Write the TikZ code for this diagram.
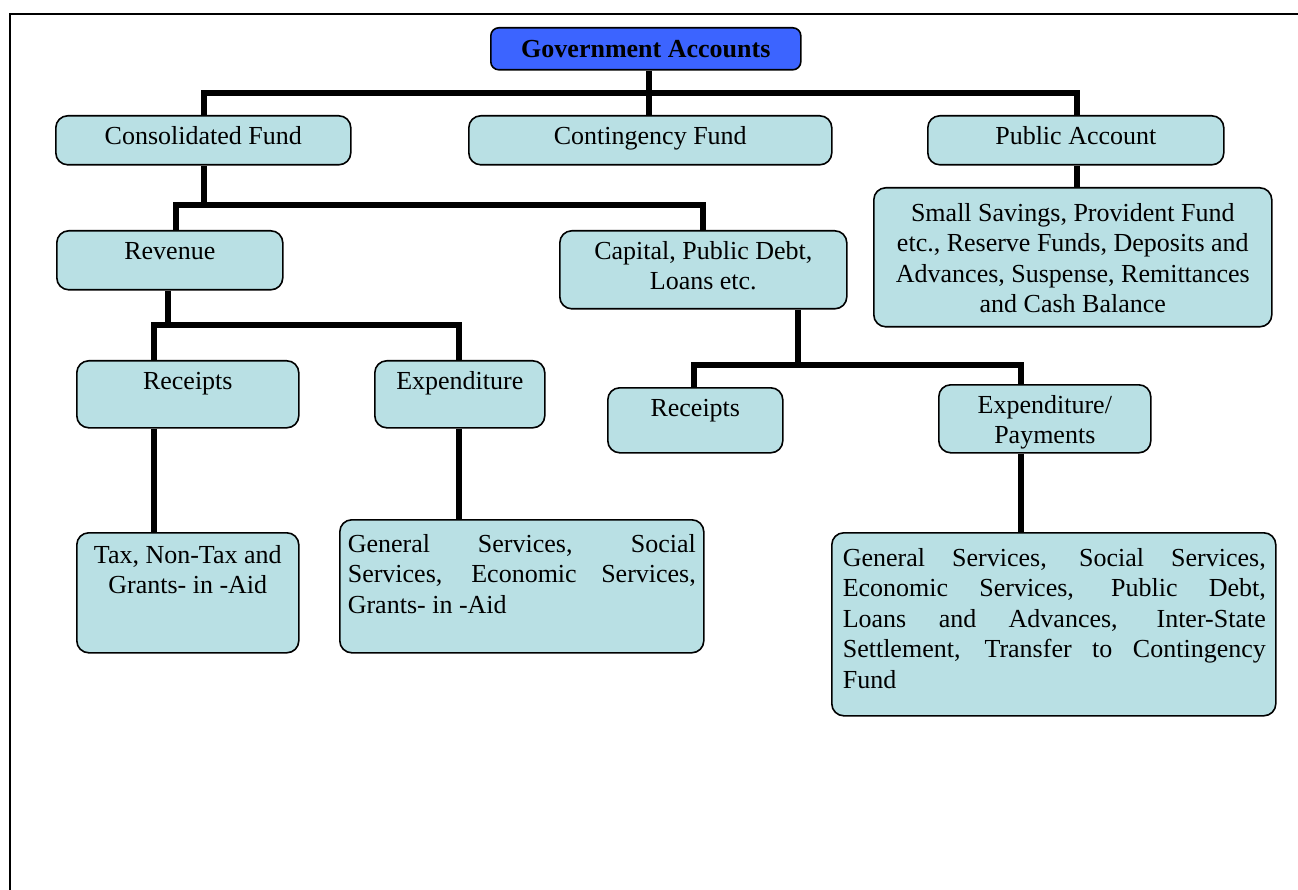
\documentclass[tikz,border=0pt]{standalone}
\usepackage{fontspec}
\setmainfont{Liberation Serif}
\definecolor{boxfill}{RGB}{185,224,228}
\definecolor{gafill}{RGB}{60,100,255}
\newcommand\bt[4][7pt]{\parbox[c][#3][t]{#2}{\vspace*{#1}#4}}
\tikzset{
  box/.style={draw=black, line width=1.6pt, fill=boxfill, rounded corners=12pt,
    inner sep=0pt, anchor=north west, font=\fontsize{26}{30.5}\selectfont},
  conn/.style={line width=5.5pt, line join=miter, black},
}
\begin{document}
\begin{tikzpicture}[x=1pt,y=-1pt]
\useasboundingbox (0,0) rectangle (1298,890);
\draw[line width=1.5pt] (10,900) -- (10,14) -- (1310,14);

\node[box, fill=gafill, rounded corners=8pt, minimum width=310pt, minimum height=42pt,
  font=\fontsize{26}{30}\selectfont\bfseries] (ga) at (490,27) {Government Accounts};

\node[box] (cf) at (55,115) {\bt{295pt}{49pt}{\centering\strut Consolidated Fund}};
\node[box] (cg) at (468,115) {\bt{363pt}{49pt}{\centering\strut Contingency Fund}};
\node[box] (pa) at (927,115) {\bt{296pt}{49pt}{\centering\strut Public Account}};
\node[box] (ss) at (873,187) {\bt[12pt]{398pt}{139pt}{\centering\strut Small Savings, Provident Fund\\ etc., Reserve Funds, Deposits and\\ Advances, Suspense, Remittances\\ and Cash Balance}};
\node[box] (rv) at (56,230) {\bt{226pt}{59pt}{\centering\strut Revenue}};
\node[box] (cp) at (559,230) {\bt{287pt}{78pt}{\centering\strut Capital, Public Debt,\\ Loans etc.}};
\node[box] (rl) at (76,360) {\bt{222pt}{67pt}{\centering\strut Receipts}};
\node[box] (ex) at (374,360) {\bt{170pt}{67pt}{\centering\strut Expenditure}};
\node[box] (rr) at (607,387) {\bt{175pt}{65pt}{\centering\strut Receipts}};
\node[box] (ep) at (938,384) {\bt{212pt}{68pt}{\centering\strut Expenditure/\\ Payments}};
\node[box] (tx) at (76,532) {\bt[9pt]{222pt}{120pt}{\centering\strut Tax, Non-Tax and\\ Grants- in -Aid}};
\node[box] (gl) at (339,519) {\bt[11pt]{364pt}{133pt}{\leftskip=8pt\rightskip=8pt\strut General Services, Social\linebreak Services, Economic Services,\linebreak Grants- in -Aid}};
\node[box] (gr) at (831,532) {\bt[12pt]{444pt}{183pt}{\leftskip=11pt\rightskip=10pt\strut General Services, Social Services,\linebreak Economic Services, Public Debt,\linebreak Loans and Advances, Inter-State\linebreak Settlement, Transfer to Contingency\linebreak Fund}};

\coordinate (b1) at (1077,93);
\coordinate (b2a) at (204,205);
\coordinate (b2) at (703,205);
\coordinate (b3a) at (168,325);
\coordinate (b3) at (459,325);
\coordinate (b4a) at (798,365);
\coordinate (b4) at (1021,365);

\draw[conn] (649,0 |- ga.south) -- (649,0 |- cg.north);
\draw[conn] (204,0 |- cf.north) |- (b1) -- (1077,0 |- pa.north);
\draw[conn] (1077,0 |- pa.south) -- (1077,0 |- ss.north);
\draw[conn] (204,0 |- cf.south) -- (b2a);
\draw[conn] (176,0 |- rv.north) |- (b2) -- (703,0 |- cp.north);
\draw[conn] (168,0 |- rv.south) -- (b3a);
\draw[conn] (154,0 |- rl.north) |- (b3) -- (459,0 |- ex.north);
\draw[conn] (154,0 |- rl.south) -- (154,0 |- tx.north);
\draw[conn] (459,0 |- ex.south) -- (459,0 |- gl.north);
\draw[conn] (798,0 |- cp.south) -- (b4a);
\draw[conn] (694,0 |- rr.north) |- (b4) -- (1021,0 |- ep.north);
\draw[conn] (1021,0 |- ep.south) -- (1021,0 |- gr.north);
\end{tikzpicture}
\end{document}
